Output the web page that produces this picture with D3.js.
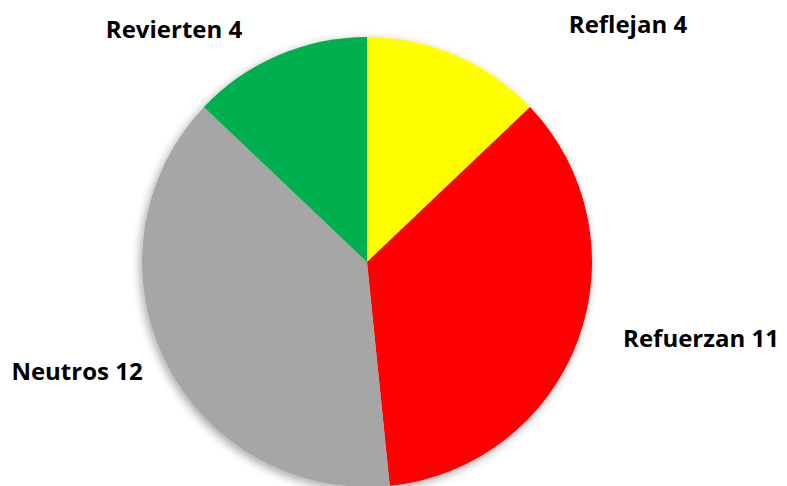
<!DOCTYPE html>
<html>
<head>
<meta charset="utf-8">
<script src="https://cdn.jsdelivr.net/npm/d3@7"></script>
<style>
  body { margin: 0; background: #fff; }
  svg { display: block; }
  .label { font-family: "Open Sans", Lato, sans-serif; font-weight: bold; font-size: 24px; fill: #000; }
</style>
</head>
<body>
<svg id="chart"></svg>
<script>
const categories = ["Reflejan", "Refuerzan", "Neutros", "Revierten"];
const values = [4, 11, 12, 4];
const colors = ["#ffff00", "#ff0000", "#a6a6a6", "#00b050"];
// label anchor (centre x, baseline y)
const label_pos = [[628, 33], [701, 347], [77, 380], [174, 38]];

function get_svg() {
    return d3.select("#chart")
        .attr("width", 787)
        .attr("height", 486);
}

function add_shadow(svg) {
    const f = svg.append("defs").append("filter")
        .attr("id", "shadow")
        .attr("x", "-10%").attr("y", "-10%")
        .attr("width", "120%").attr("height", "120%");
    f.append("feGaussianBlur").attr("in", "SourceAlpha").attr("stdDeviation", 5).attr("result", "blur");
    f.append("feOffset").attr("dx", -2).attr("dy", 3).attr("result", "off");
    f.append("feComponentTransfer").append("feFuncA").attr("type", "linear").attr("slope", 0.35);
    const m = f.append("feMerge");
    m.append("feMergeNode");
    m.append("feMergeNode").attr("in", "SourceGraphic");
}

function draw_pie() {
    const svg = get_svg();
    add_shadow(svg);

    const cx = 367, cy = 262, r = 225;
    const data = categories.map((c, i) => ({ name: c, value: values[i], color: colors[i] }));
    const pie = d3.pie().value(d => d.value).sort(null);
    const arc = d3.arc().innerRadius(0).outerRadius(r);

    const g = svg.append("g")
        .attr("transform", `translate(${cx},${cy})`)
        .attr("filter", "url(#shadow)");

    g.selectAll("path")
        .data(pie(data))
        .enter().append("path")
        .attr("d", arc)
        .attr("fill", d => d.data.color);

    svg.selectAll(".label")
        .data(data)
        .enter().append("text")
        .attr("class", "label")
        .attr("x", (d, i) => label_pos[i][0])
        .attr("y", (d, i) => label_pos[i][1])
        .attr("text-anchor", "middle")
        .text(d => d.name + " " + d.value);
}

draw_pie();
</script>
</body>
</html>
